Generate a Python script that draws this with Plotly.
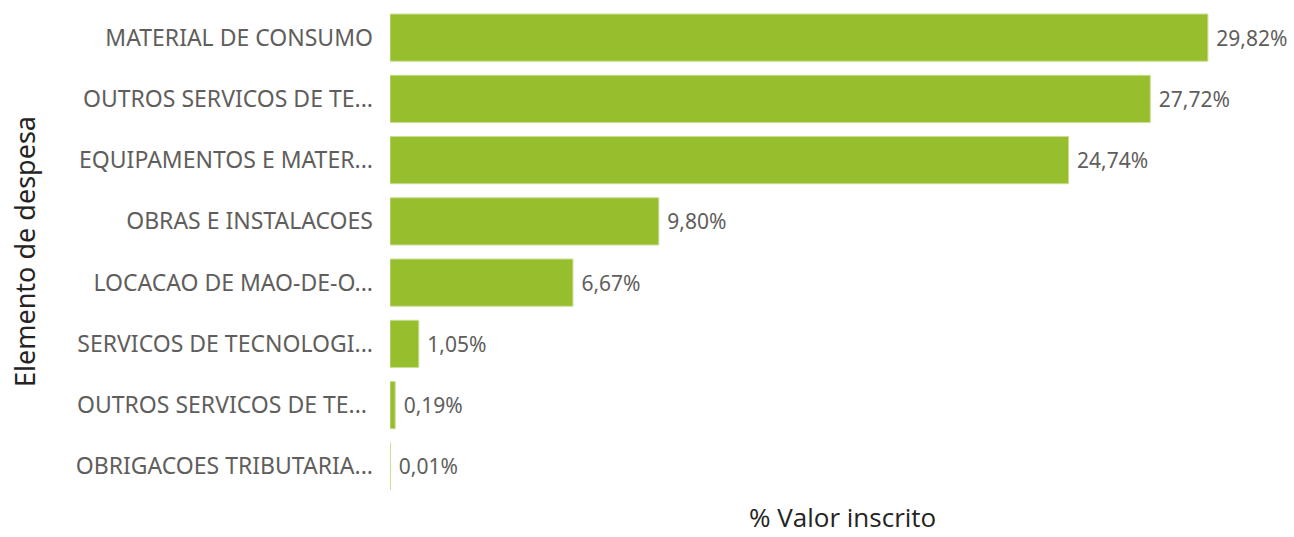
import plotly.graph_objects as go

# Dados
categorias = [
    "MATERIAL DE CONSUMO",
    "OUTROS SERVICOS DE TE...",
    "EQUIPAMENTOS E MATER...",
    "OBRAS E INSTALACOES",
    "LOCACAO DE MAO-DE-O...",
    "SERVICOS DE TECNOLOGI...",
    "OUTROS SERVICOS DE TE... ",
    "OBRIGACOES TRIBUTARIA...",
]
valores = [29.82, 27.72, 24.74, 9.80, 6.67, 1.05, 0.19, 0.01]

# Cores e fontes
cor_barra = "#97BE2C"
cor_texto = "#605E5C"
cor_titulo = "#252423"
fonte = "Noto Sans"
fonte_titulo_x = "Open Sans"

fig = go.Figure()

fig.add_trace(go.Bar(
    y=categorias,
    x=valores,
    orientation="h",
    marker=dict(color=cor_barra, line=dict(color="#C9DE94", width=1)),
    texttemplate=" %{x:.2f}%",
    textposition="outside",
    textfont=dict(family=fonte, size=21, color=cor_texto),
    cliponaxis=False,
    hoverinfo="x+y",
))

fig.update_layout(
    width=1294,
    height=537,
    margin=dict(l=390, r=0, t=7, b=40),
    paper_bgcolor="white",
    plot_bgcolor="white",
    separators=",.",
    bargap=0.23,
    showlegend=False,
    xaxis=dict(
        range=[0, 32.96],
        showgrid=False,
        zeroline=False,
        showticklabels=False,
        fixedrange=True,
    ),
    yaxis=dict(
        autorange="reversed",
        showgrid=False,
        zeroline=False,
        ticklabelstandoff=16,
        tickfont=dict(family=fonte, size=23, color=cor_texto),
        fixedrange=True,
    ),
    annotations=[
        dict(
            text="Elemento de despesa",
            xref="paper", yref="paper",
            x=0, y=0.5,
            xanchor="center", yanchor="middle",
            xshift=-366,
            textangle=-90,
            showarrow=False,
            font=dict(family=fonte, size=27, color=cor_titulo),
        ),
        dict(
            text="% Valor inscrito",
            xref="paper", yref="paper",
            x=0.5, y=0,
            xanchor="center", yanchor="bottom",
            yshift=-40,
            showarrow=False,
            font=dict(family=fonte_titulo_x, size=26, color=cor_titulo),
        ),
    ],
)

fig.write_html(
    "out.html",
    config={"displayModeBar": False},
    post_script="document.body.style.margin='0';",
)
